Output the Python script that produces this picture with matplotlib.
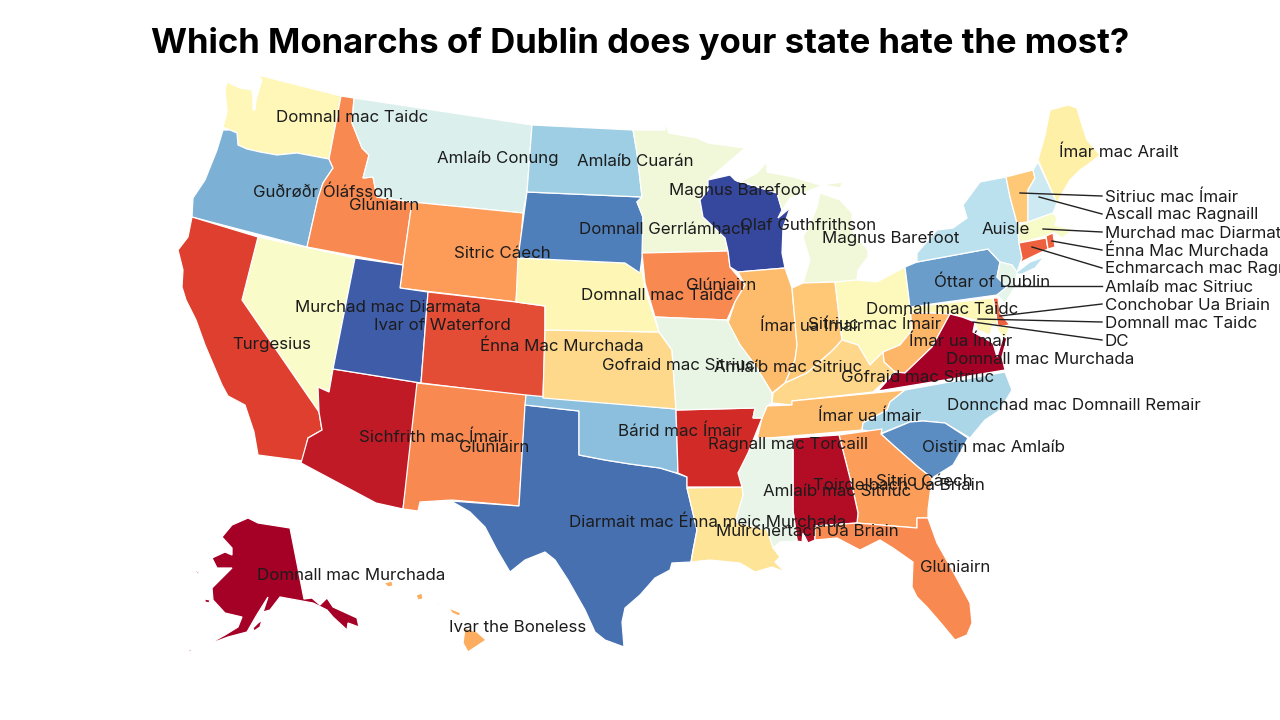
import matplotlib
matplotlib.use("Agg")
import matplotlib.pyplot as plt
from matplotlib.patches import Polygon

plt.rcParams['font.family'] = ['Inter', 'Noto Sans', 'DejaVu Sans']

TITLE = "Which Monarchs of Dublin does your state hate the most?"

# State outlines (map units = reference pixels)
WA = [(227,82),(240,88),(252,90),(253,100),(253,110),(255,110),(256,100),(259,90),(262,80),(258,75),(341,96),(329,159),(297,153),(277,155),(260,152),(247,149),(238,145),(237,133),(230,130),(223,127),(227,112),(225,90)]
OR = [(223,130),(230,130),(237,133),(238,145),(247,149),(260,152),(277,155),(297,153),(329,159),(333,168),(323,183),(318,198),(307,247),(192,217),(193,198),(205,180),(217,150)]
ID = [(341,96),(354,98),(352,123),(362,148),(369,155),(363,178),(373,177),(377,197),(412,202),(403,265),(307,247),(318,198),(323,183),(333,168),(329,159)]
MT = [(354,98),(532,125),(527,192),(523,213),(412,202),(377,197),(373,177),(363,178),(369,155),(362,148),(352,123)]
WY = [(412,202),(523,213),(516,302),(400,288),(403,265)]
NV = [(258,237),(355,258),(333,369),(329,392),(318,387),(319,412),(242,300)]
CA = [(192,217),(258,237),(242,300),(319,412),(322,430),(308,438),(303,461),(258,455),(254,432),(245,405),(228,396),(222,385),(205,345),(196,320),(186,300),(182,287),(183,270),(178,250),(188,237)]
AZ = [(333,369),(421,383),(403,509),(376,503),(301,463),(308,438),(322,430),(319,412),(318,387),(329,392)]
UT = [(355,258),(403,265),(400,288),(428,292),(421,383),(333,369)]
CO = [(428,292),(516,302),(545,306),(545,330),(543,398),(421,383)]
NM = [(417,383),(526,395),(519,506),(452,500),(420,502),(418,511),(403,509)]
TX = [(525,405),(579,411),(579,455),(605,460),(630,464),(660,468),(673,472),(687,477),(687,488),(697,530),(693,550),(691,562),(672,563),(670,570),(655,578),(640,595),(625,608),(622,622),(624,647),(605,640),(595,632),(585,610),(568,580),(555,560),(545,552),(525,560),(510,572),(497,550),(485,527),(470,512),(451,501),(519,506)]
OK = [(526,395),(676,409),(678,473),(673,472),(660,468),(630,464),(605,460),(579,455),(579,411),(525,405)]
KS = [(545,330),(659,332),(672,350),(676,409),(543,398)]
NE = [(518,258),(625,263),(642,268),(645,290),(659,332),(545,330),(545,306),(516,302)]
SD = [(527,192),(642,197),(637,202),(643,217),(643,250),(640,273),(625,263),(518,258)]
ND = [(532,125),(633,130),(637,153),(642,197),(527,192)]
MN = [(633,130),(665,130),(665,122),(669,133),(697,138),(708,143),(745,148),(710,178),(708,190),(700,200),(703,217),(725,238),(728,251),(642,253),(643,217),(637,202),(642,197),(637,153)]
IA = [(642,253),(728,251),(730,267),(745,285),(735,302),(727,320),(655,317),(645,283)]
WI = [(708,180),(730,175),(735,180),(777,193),(782,210),(778,218),(790,208),(783,228),(782,253),(785,268),(738,272),(730,267),(728,251),(725,238),(703,217),(700,200),(708,190)]
MI_UP = [(735,180),(740,182),(757,173),(767,162),(767,172),(793,177),(820,185),(843,182),(840,188),(823,185),(811,190),(790,198),(782,210),(777,193)]
MI_LP = [(817,207),(820,193),(840,200),(852,213),(853,233),(868,250),(868,257),(858,270),(857,280),(835,282),(803,283),(810,260),(803,237),(813,217)]
IL = [(738,272),(785,268),(792,288),(797,345),(795,360),(785,383),(772,393),(755,365),(740,345),(728,323),(735,302),(745,285)]
IN = [(792,288),(803,283),(835,282),(842,340),(833,350),(807,373),(785,383),(795,360),(797,345)]
OH = [(835,282),(857,280),(877,282),(905,267),(910,307),(912,330),(900,345),(883,352),(870,365),(858,345),(842,340)]
PA = [(905,267),(917,262),(988,249),(1000,262),(997,277),(1007,287),(997,295),(910,307)]
NY = [(917,262),(917,253),(937,230),(953,228),(967,218),(963,205),(980,182),(1006,177),(1010,197),(1017,223),(1019,243),(1022,258),(1017,272),(1030,262),(1044,257),(1035,268),(1022,274),(1017,274),(1012,265),(1000,262),(988,249)]
NJ = [(1000,262),(1012,265),(1017,272),(1015,287),(1005,303),(997,295),(1007,287),(997,277)]
VT = [(1006,177),(1033,170),(1035,178),(1028,190),(1028,222),(1017,223),(1010,197)]
NH = [(1033,170),(1038,162),(1057,203),(1053,213),(1028,222),(1028,190),(1035,178)]
ME = [(1038,160),(1045,135),(1050,110),(1068,105),(1077,108),(1082,125),(1087,140),(1100,155),(1090,163),(1080,170),(1070,180),(1060,197),(1057,203)]
MA = [(1018,225),(1028,222),(1053,213),(1057,218),(1055,225),(1073,230),(1062,238),(1055,233),(1053,233),(1046,236),(1019,243)]
CT = [(1019,243),(1046,238),(1048,249),(1023,261),(1020,264),(1022,258)]
RI = [(1046,236),(1053,233),(1055,247),(1048,249)]
DE = [(993,298),(998,298),(1000,313),(1010,325),(998,327)]
MD = [(912,313),(910,307),(993,298),(998,327),(1010,325),(1005,340),(993,323),(990,335),(977,330),(975,320),(962,317),(950,314),(932,313)]
WV = [(910,307),(912,313),(932,313),(950,314),(932,347),(905,373),(895,372),(884,362),(883,352),(900,345),(912,330)]
VA = [(962,317),(975,322),(973,332),(993,343),(997,357),(1003,337),(1007,338),(1002,357),(1005,370),(878,391),(895,372),(905,373),(932,347),(950,314)]
KY = [(772,403),(773,393),(785,383),(807,373),(833,350),(842,340),(858,345),(870,365),(883,352),(884,362),(895,372),(873,392),(792,401),(792,405)]
TN = [(767,406),(792,405),(792,401),(905,390),(890,402),(887,410),(863,423),(862,430),(757,439),(762,418)]
NC = [(905,390),(1005,372),(1012,390),(1000,410),(985,420),(970,438),(945,423),(923,421),(910,422),(882,433),(862,430),(863,423),(887,410),(890,402)]
SC = [(881,434),(910,422),(923,421),(945,423),(968,438),(960,453),(953,465),(932,478),(918,467),(893,445)]
GA = [(839,435),(882,429),(881,434),(893,445),(918,467),(932,478),(928,510),(928,518),(917,518),(917,528),(857,523),(858,513),(853,490)]
AL = [(793,438),(839,435),(853,490),(858,513),(857,523),(815,526),(815,540),(808,543),(803,533),(802,542),(797,541),(793,510)]
MS = [(748,453),(757,438),(793,438),(793,510),(797,541),(780,542),(773,548),(767,530),(735,522),(743,495),(742,487),(738,473)]
LA = [(687,488),(742,487),(743,495),(735,522),(767,530),(773,548),(780,557),(775,562),(785,572),(772,567),(755,572),(740,563),(710,560),(691,562),(697,530)]
AR = [(676,410),(755,408),(753,418),(762,418),(748,453),(738,473),(742,487),(687,487),(687,477),(678,473)]
MO = [(655,317),(727,320),(740,345),(755,365),(772,393),(772,403),(767,406),(762,418),(753,418),(755,408),(676,410),(672,350),(659,332)]
FL = [(815,540),(815,526),(857,523),(917,528),(917,518),(928,518),(937,543),(955,575),(970,603),(972,623),(967,635),(955,640),(940,622),(927,607),(917,597),(912,587),(913,562),(893,548),(880,540),(860,550),(837,538)]
AK = [(248,518),(258,523),(290,528),(304,599),(312,598),(320,605),(327,598),(333,607),(357,618),(359,627),(348,623),(347,630),(333,617),(327,610),(313,603),(280,597),(270,610),(263,612),(268,597),(258,613),(255,618),(247,632),(228,637),(212,643),(207,645),(225,635),(238,627),(242,617),(225,613),(213,600),(212,588),(220,580),(232,568),(217,568),(212,558),(225,552),(232,555),(232,548),(222,537),(232,525)]
AK_KODIAK = [(253,628),(258,623),(262,620),(260,627),(254,631)]
AK_NUNIVAK = [(205,599),(210,600),(209,603),(205,602)]
AK_LAWRENCE = [(194,570),(197,571),(202,574),(197,573)]
AK_ALEUT = [(188,651),(191,649),(191,652)]
AK_ATTU = [(104,623),(106,623),(106,624)]
HI_BIG = [(465,628),(477,632),(486,640),(468,652),(463,643)]
HI_MAUI = [(449,608),(461,613),(459,616),(452,613)]
HI_OAHU = [(416,595),(422,593),(423,599),(418,600)]
HI_KAUAI = [(384,583),(392,581),(393,586),(388,587)]
HI_MOLOKAI = [(435,603),(440,604),(437,605)]

SHAPES = [
    (WA,'#fef7b8'),(OR,'#7cb0d5'),(ID,'#f88950'),(MT,'#dbefed'),(WY,'#fd9b58'),(NV,'#f9fbc8'),
    (CA,'#de3f2e'),(AZ,'#c01a27'),(UT,'#3e5ca8'),(CO,'#e44d35'),(NM,'#f88950'),(TX,'#4770b1'),
    (OK,'#8cbfdd'),(KS,'#fed98b'),(NE,'#fdf6b5'),(SD,'#4f7fba'),(ND,'#9dcee3'),(MN,'#f0f8d9'),
    (IA,'#f88950'),(WI,'#36479e'),(MI_UP,'#f0f8d9'),(MI_LP,'#f0f8d9'),(IL,'#fdbb6c'),(IN,'#fec877'),
    (OH,'#fdf9bc'),(PA,'#6a9dc9'),(NY,'#bce1ee'),(NJ,'#e6f5ea'),(VT,'#fec877'),(NH,'#cde9f2'),
    (ME,'#fff0a8'),(MA,'#f7fbc8'),(CT,'#ee613e'),(RI,'#ee613e'),(DE,'#ee613e'),(MD,'#fdf7b8'),
    (WV,'#fdb568'),(VA,'#a50026'),(KY,'#fed78a'),(TN,'#fdbb6c'),(NC,'#abd6e8'),(SC,'#5b8dc2'),
    (GA,'#fc9d59'),(AL,'#b30d26'),(MS,'#e8f5e8'),(LA,'#fee497'),(AR,'#d22b27'),(MO,'#e8f5e5'),
    (FL,'#f88950'),(AK,'#a50026'),(AK_KODIAK,'#a50026'),(AK_NUNIVAK,'#a50026'),(AK_LAWRENCE,'#a50026'),
    (AK_ALEUT,'#a50026'),(AK_ATTU,'#a50026'),
    (HI_BIG,'#fdad60'),(HI_MAUI,'#fdad60'),(HI_OAHU,'#fdad60'),(HI_KAUAI,'#fdad60'),(HI_MOLOKAI,'#fdad60'),
]

MAP_NAMES = ["Domnall mac Taidc","Amlaíb Conung","Amlaíb Cuarán","Magnus Barefoot","Olaf Guthfrithson","Magnus Barefoot",
    "Domnall Gerrlámhach","Guðrøðr Óláfsson","Glúniairn","Sitric Cáech","Glúniairn","Domnall mac Taidc",
    "Murchad mac Diarmata","Ivar of Waterford","Turgesius","Énna Mac Murchada","Ímar ua Ímair","Sitriuc mac Ímair",
    "Domnall mac Taidc","Ímar ua Ímair","Domnall mac Murchada","Gofraid mac Sitriuc","Amlaíb mac Sitriuc","Gofraid mac Sitriuc",
    "Ímar ua Ímair","Donnchad mac Domnaill Remair","Bárid mac Ímair","Sichfrith mac Ímair","Glúniairn","Ragnall mac Torcaill",
    "Oistin mac Amlaíb","Toirdelbach Ua Briain","Sitric Cáech","Amlaíb mac Sitriuc","Diarmait mac Énna meic Murchada","Muirchertach Ua Briain",
    "Glúniairn","Domnall mac Murchada","Ivar the Boneless","Auisle","Óttar of Dublin","Ímar mac Arailt"]
MAP_X = [352,498,635,738,808,891,665,323,384,502,721,657,388,442,272,562,812,875,942,961,1040,679,788,918,870,1074,680,434,494,788,994,899,924,837,708,807,955,351,518,1006,992,1119]
MAP_Y = [118,158,162,190,225,238,230,192,205,253,285,295,308,325,344,346,326,324,310,341,360,365,368,377,416,405,431,437,448,445,447,486,482,492,522,532,568,575,627,229,282,152]

SIDE_NAMES = ["Sitriuc mac Ímair","Ascall mac Ragnaill","Murchad mac Diarmata","Énna Mac Murchada","Echmarcach mac Ragnaill","Amlaíb mac Sitriuc","Conchobar Ua Briain","Domnall mac Taidc","DC"]
SIDE_Y = [197,215,233,251,269,287,305,323,341]
LEADER_X = [1020,1039,1043,1052,1032,1008,1000,978,973]
LEADER_Y = [193,197,229,241,247,286,316,319,322]
SIDE_X = 1105
FONT_SIZE = 12.2

fig = plt.figure(figsize=(12.8, 7.2), dpi=100, facecolor='white')
ax = fig.add_axes([0, 0, 1, 1])
ax.set_xlim(0, 1280)
ax.set_ylim(720, 0)
ax.axis('off')

for outline, colour in SHAPES:
    ax.add_patch(Polygon(outline, closed=True, facecolor=colour, edgecolor='white', linewidth=0.9))

for name, y, lx, ly in zip(SIDE_NAMES, SIDE_Y, LEADER_X, LEADER_Y):
    ax.plot([lx, SIDE_X - 3], [ly, y - 1], color='#222222', lw=1.0)
    ax.text(SIDE_X, y, name, ha='left', va='center', fontsize=FONT_SIZE, color='#1c1c1c', clip_on=True)

for name, x, y in zip(MAP_NAMES, MAP_X, MAP_Y):
    ax.text(x, y, name, ha='center', va='center', fontsize=FONT_SIZE, color='#1c1c1c')

ax.text(640, 43, TITLE, ha='center', va='center', fontsize=25, fontweight='bold', color='black')

fig.savefig('out.png', dpi=100)
